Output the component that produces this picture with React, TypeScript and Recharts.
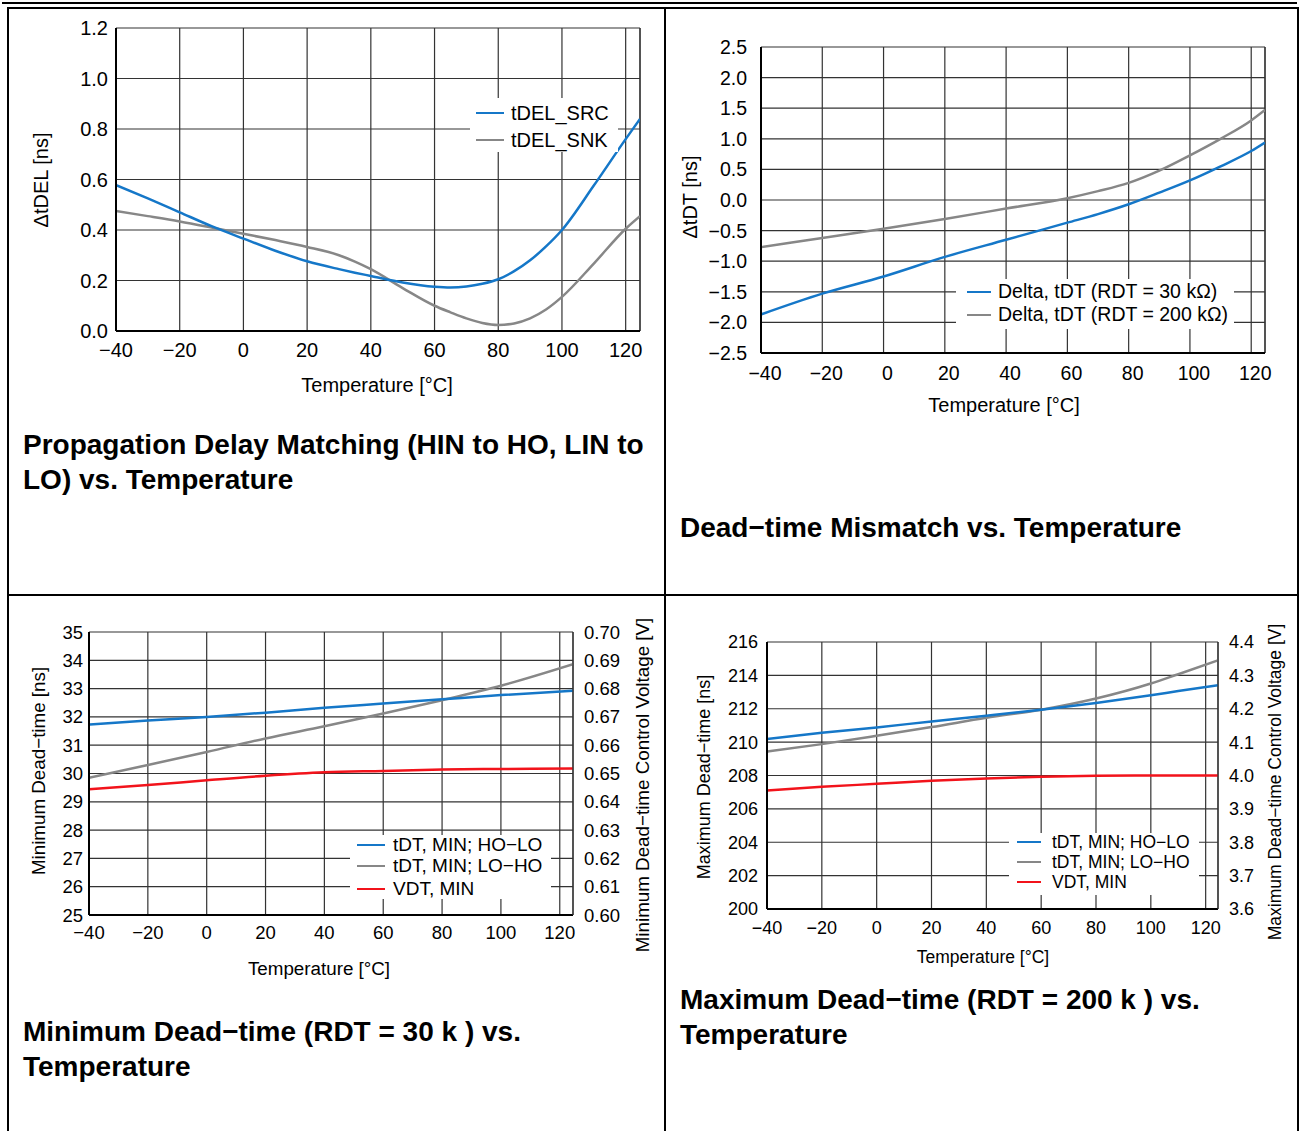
import React from "react";
import { LineChart, Line, XAxis, YAxis, CartesianGrid, ReferenceLine } from "recharts";

// shared temperature axis
const X_TICKS = [-40, -20, 0, 20, 40, 60, 80, 100, 120];
const X_MAX = 124.5;

// chart 1: propagation delay matching
const T1 = [-40, -30, -20, -10, 0, 10, 20, 30, 35, 40, 50, 60, 65, 70, 75, 80, 85, 90, 95, 100, 110, 120, 124.5];
const DEL_SRC = [0.578, 0.525, 0.47, 0.415, 0.366, 0.318, 0.276, 0.245, 0.231, 0.218, 0.192, 0.175, 0.172, 0.176, 0.187, 0.205, 0.237, 0.28, 0.335, 0.4, 0.576, 0.76, 0.84];
const DEL_SNK = [0.475, 0.455, 0.434, 0.41, 0.385, 0.36, 0.333, 0.3, 0.275, 0.245, 0.17, 0.1, 0.074, 0.05, 0.032, 0.024, 0.03, 0.05, 0.085, 0.135, 0.267, 0.405, 0.455];
const Y1_TICKS = [0, 0.2, 0.4, 0.6, 0.8, 1.0, 1.2];

// chart 2: dead-time mismatch
const T2 = [-40, -20, 0, 20, 40, 60, 70, 80, 90, 100, 110, 120, 124.5];
const DT_30K = [-1.87, -1.53, -1.25, -0.93, -0.65, -0.37, -0.23, -0.07, 0.12, 0.32, 0.55, 0.8, 0.94];
const DT_200K = [-0.77, -0.62, -0.47, -0.31, -0.14, 0.03, 0.145, 0.28, 0.48, 0.73, 1.0, 1.3, 1.47];
const Y2_TICKS = [-2.5, -2.0, -1.5, -1.0, -0.5, 0, 0.5, 1.0, 1.5, 2.0, 2.5];

// chart 3: minimum dead-time (RDT = 30k)
const T3 = [-40, -20, 0, 20, 40, 60, 80, 100, 124.5];
const MIN_HOLO = [31.73, 31.87, 32.0, 32.15, 32.32, 32.47, 32.62, 32.77, 32.92];
const MIN_LOHO = [29.85, 30.3, 30.76, 31.24, 31.67, 32.12, 32.59, 33.1, 33.86];
const MIN_VDT = [0.6444, 0.6459, 0.6476, 0.6492, 0.6504, 0.6509, 0.6514, 0.6516, 0.6518];
const Y3_TICKS = [25, 26, 27, 28, 29, 30, 31, 32, 33, 34, 35];
const Y3R_TICKS = [0.6, 0.61, 0.62, 0.63, 0.64, 0.65, 0.66, 0.67, 0.68, 0.69, 0.7];

// chart 4: maximum dead-time (RDT = 200k)
const T4 = [-40, -20, 0, 20, 40, 60, 80, 100, 110, 124.5];
const MAX_HOLO = [210.18, 210.56, 210.88, 211.24, 211.58, 211.94, 212.35, 212.81, 213.06, 213.41];
const MAX_LOHO = [209.43, 209.88, 210.38, 210.9, 211.46, 211.94, 212.61, 213.51, 214.07, 214.9];
const MAX_VDT = [3.955, 3.966, 3.975, 3.984, 3.991, 3.996, 3.999, 4.0, 4.0, 4.0];
const Y4_TICKS = [200, 202, 204, 206, 208, 210, 212, 214, 216];
const Y4R_TICKS = [3.6, 3.7, 3.8, 3.9, 4.0, 4.1, 4.2, 4.3, 4.4];

const BLUE = "#1577c8";
const GRAY = "#878787";
const RED = "#f2131b";
const GRID = "#333";
const FONT = "'Liberation Sans', Arial, Helvetica, sans-serif";

const pts = (ts: number[], vs: number[]) => ts.map((t, i) => ({ t, v: vs[i] }));
const minus = (s: string) => s.replace("-", "\u2212");
const fmt = (d: number) => (v: number) => minus(v.toFixed(d));

type Box = { x: number; y: number; w: number; h: number };
type Plot = { x1: number; y1: number; x2: number; y2: number };

function layout(box: Box, plot: Plot) {
  return {
    left: plot.x1 - box.x,
    right: box.x + box.w - plot.x2,
    top: plot.y1 - box.y,
    bottom: box.y + box.h - plot.y2,
  };
}

type LegendRow = { label: string; color: string; cy: number };

function LegendBox({ x, y, w, h, rows, lineX, lineW, textX, fontSize }: {
  x: number; y: number; w: number; h: number; rows: LegendRow[];
  lineX: number; lineW: number; textX: number; fontSize: number;
}) {
  return (
    <div style={{ position: "absolute", left: x, top: y, width: w, height: h, background: "#fff" }}>
      {rows.map((r) => (
        <React.Fragment key={r.label}>
          <div style={{ position: "absolute", left: lineX, top: r.cy - 1.25, width: lineW, height: 2.5, background: r.color }} />
          <div style={{ position: "absolute", left: textX, top: r.cy - fontSize * 0.6, fontSize, lineHeight: `${fontSize * 1.2}px`, whiteSpace: "nowrap" }}>
            {r.label}
          </div>
        </React.Fragment>
      ))}
    </div>
  );
}

function AxisTitle({ cx, cy, text, size, rotate }: { cx: number; cy: number; text: string; size: number; rotate?: boolean }) {
  return (
    <div
      style={{
        position: "absolute", left: cx, top: cy, fontSize: size, whiteSpace: "nowrap", lineHeight: 1,
        transform: `translate(-50%, -50%)${rotate ? " rotate(-90deg)" : ""}`,
      }}
    >
      {text}
    </div>
  );
}

function Title({ x, y, lines }: { x: number; y: number; lines: string[] }) {
  return (
    <div style={{ position: "absolute", left: x, top: y, fontSize: 28, fontWeight: "bold", lineHeight: "35px", whiteSpace: "nowrap" }}>
      {lines.map((l) => <div key={l}>{l}</div>)}
    </div>
  );
}

const line = (x: number, y: number, w: number, h: number) => (
  <div style={{ position: "absolute", left: x, top: y, width: w, height: h, background: "#000" }} />
);

export default function App() {
  const b1 = { x: 10, y: 10, w: 650, h: 380 };
  const l1 = layout(b1, { x1: 116, y1: 28, x2: 640, y2: 331 });
  const b2 = { x: 670, y: 20, w: 620, h: 385 };
  const l2 = layout(b2, { x1: 761, y1: 47, x2: 1265, y2: 353 });
  const b3 = { x: 10, y: 610, w: 610, h: 350 };
  const l3 = layout(b3, { x1: 89, y1: 632, x2: 573, y2: 915 });
  const b4 = { x: 680, y: 620, w: 590, h: 340 };
  const l4 = layout(b4, { x1: 767, y1: 642, x2: 1218, y2: 909 });

  const tickStyle = (size: number) => ({ fill: "#000", fontSize: size });
  const axisLine = { stroke: "#000", strokeWidth: 2 };
  const thinAxis = { stroke: GRID, strokeWidth: 1.2 };

  return (
    <div style={{ position: "absolute", left: 0, top: 0, width: 1300, height: 1131, background: "#fff", fontFamily: FONT, color: "#000", overflow: "hidden" }}>
      {/* table rules */}
      {line(2, 2, 1295, 2)}
      {line(7, 7, 1292, 1.5)}
      {line(7, 7, 2, 1124)}
      {line(664, 7, 2, 1124)}
      {line(1297, 7, 2, 1124)}
      {line(7, 594, 1292, 2)}

      {/* chart 1 */}
      <div style={{ position: "absolute", left: b1.x, top: b1.y }}>
        <LineChart width={b1.w} height={b1.h} margin={{ top: l1.top, right: l1.right, left: 0, bottom: 0 }}>
          <CartesianGrid stroke={GRID} strokeWidth={1.2} />
          <XAxis dataKey="t" type="number" domain={[-40, X_MAX]} ticks={X_TICKS} allowDataOverflow height={l1.bottom}
            tickLine={false} tickMargin={6} axisLine={axisLine} tick={tickStyle(20)} tickFormatter={fmt(0)} />
          <YAxis type="number" domain={[0, 1.2]} ticks={Y1_TICKS} width={l1.left} tickLine={false} tickMargin={2}
            axisLine={axisLine} tick={tickStyle(20)} tickFormatter={fmt(1)} />
          <ReferenceLine x={X_MAX} stroke={GRID} strokeWidth={1.2} />
          <Line data={pts(T1, DEL_SNK)} dataKey="v" type="monotone" stroke={GRAY} strokeWidth={2.5} dot={false} isAnimationActive={false} />
          <Line data={pts(T1, DEL_SRC)} dataKey="v" type="monotone" stroke={BLUE} strokeWidth={2.5} dot={false} isAnimationActive={false} />
        </LineChart>
      </div>
      <LegendBox x={470} y={98} w={148} h={54} lineX={6} lineW={28} textX={41} fontSize={20}
        rows={[{ label: "tDEL_SRC", color: BLUE, cy: 15 }, { label: "tDEL_SNK", color: GRAY, cy: 42 }]} />
      <AxisTitle cx={41} cy={180} text={"\u0394tDEL [ns]"} size={20} rotate />
      <AxisTitle cx={377} cy={385} text={"Temperature [\u00b0C]"} size={20} />
      <Title x={23} y={427} lines={["Propagation Delay Matching (HIN to HO, LIN to", "LO) vs. Temperature"]} />

      {/* chart 2 */}
      <div style={{ position: "absolute", left: b2.x, top: b2.y }}>
        <LineChart width={b2.w} height={b2.h} margin={{ top: l2.top, right: l2.right, left: 0, bottom: 0 }}>
          <CartesianGrid stroke={GRID} strokeWidth={1.2} />
          <XAxis dataKey="t" type="number" domain={[-40, X_MAX]} ticks={X_TICKS} allowDataOverflow height={l2.bottom}
            tickLine={false} tickMargin={7} axisLine={axisLine} tick={{ ...tickStyle(19.5), dx: 4 }} tickFormatter={fmt(0)} />
          <YAxis type="number" domain={[-2.5, 2.5]} ticks={Y2_TICKS} width={l2.left} tickLine={false} tickMargin={8}
            axisLine={axisLine} tick={tickStyle(19.5)} tickFormatter={fmt(1)} />
          <ReferenceLine x={X_MAX} stroke={GRID} strokeWidth={1.2} />
          <Line data={pts(T2, DT_200K)} dataKey="v" type="monotone" stroke={GRAY} strokeWidth={2.5} dot={false} isAnimationActive={false} />
          <Line data={pts(T2, DT_30K)} dataKey="v" type="monotone" stroke={BLUE} strokeWidth={2.5} dot={false} isAnimationActive={false} />
        </LineChart>
      </div>
      <LegendBox x={956} y={279} w={278} h={50} lineX={11} lineW={24} textX={42} fontSize={19.5}
        rows={[
          { label: "Delta, tDT (RDT = 30 k\u03a9)", color: BLUE, cy: 13 },
          { label: "Delta, tDT (RDT = 200 k\u03a9)", color: GRAY, cy: 36 },
        ]} />
      <AxisTitle cx={690} cy={197} text={"\u0394tDT [ns]"} size={20} rotate />
      <AxisTitle cx={1004} cy={405} text={"Temperature [\u00b0C]"} size={20} />
      <Title x={680} y={510} lines={["Dead\u2212time Mismatch vs. Temperature"]} />

      {/* chart 3 */}
      <div style={{ position: "absolute", left: b3.x, top: b3.y }}>
        <LineChart width={b3.w} height={b3.h} margin={{ top: l3.top, right: 0, left: 0, bottom: 0 }}>
          <CartesianGrid stroke={GRID} strokeWidth={1.2} yAxisId="left" />
          <XAxis dataKey="t" type="number" domain={[-40, X_MAX]} ticks={X_TICKS} allowDataOverflow height={l3.bottom}
            tickLine={false} tickMargin={4.5} axisLine={axisLine} tick={tickStyle(18.5)} tickFormatter={fmt(0)} />
          <YAxis yAxisId="left" type="number" domain={[25, 35]} ticks={Y3_TICKS} width={l3.left} tickLine={false} tickMargin={0}
            axisLine={axisLine} tick={tickStyle(18.5)} tickFormatter={fmt(0)} />
          <YAxis yAxisId="right" orientation="right" type="number" domain={[0.6, 0.7]} ticks={Y3R_TICKS} width={l3.right}
            tickLine={false} tickMargin={5} axisLine={thinAxis} tick={{ ...tickStyle(18.5), textAnchor: "start" }} tickFormatter={fmt(2)} />
          <Line yAxisId="right" data={pts(T3, MIN_VDT)} dataKey="v" type="monotone" stroke={RED} strokeWidth={2.5} dot={false} isAnimationActive={false} />
          <Line yAxisId="left" data={pts(T3, MIN_LOHO)} dataKey="v" type="monotone" stroke={GRAY} strokeWidth={2.5} dot={false} isAnimationActive={false} />
          <Line yAxisId="left" data={pts(T3, MIN_HOLO)} dataKey="v" type="monotone" stroke={BLUE} strokeWidth={2.5} dot={false} isAnimationActive={false} />
        </LineChart>
      </div>
      <LegendBox x={350} y={835} w={201} h={64} lineX={7} lineW={28} textX={43} fontSize={19}
        rows={[
          { label: "tDT, MIN; HO\u2212LO", color: BLUE, cy: 10 },
          { label: "tDT, MIN; LO\u2212HO", color: GRAY, cy: 31 },
          { label: "VDT, MIN", color: RED, cy: 54 },
        ]} />
      <AxisTitle cx={39} cy={771} text={"Minimum Dead\u2212time [ns]"} size={18.8} rotate />
      <AxisTitle cx={643} cy={785} text={"Minimum Dead\u2212time Control Voltage [V]"} size={18.8} rotate />
      <AxisTitle cx={319} cy={969} text={"Temperature [\u00b0C]"} size={18.8} />
      <Title x={23} y={1014} lines={["Minimum Dead\u2212time (RDT = 30 k ) vs.", "Temperature"]} />

      {/* chart 4 */}
      <div style={{ position: "absolute", left: b4.x, top: b4.y }}>
        <LineChart width={b4.w} height={b4.h} margin={{ top: l4.top, right: 0, left: 0, bottom: 0 }}>
          <CartesianGrid stroke={GRID} strokeWidth={1.2} yAxisId="left" />
          <XAxis dataKey="t" type="number" domain={[-40, X_MAX]} ticks={X_TICKS} allowDataOverflow height={l4.bottom}
            tickLine={false} tickMargin={6.7} axisLine={axisLine} tick={tickStyle(18)} tickFormatter={fmt(0)} />
          <YAxis yAxisId="left" type="number" domain={[200, 216]} ticks={Y4_TICKS} width={l4.left} tickLine={false} tickMargin={3}
            axisLine={axisLine} tick={tickStyle(18)} tickFormatter={fmt(0)} />
          <YAxis yAxisId="right" orientation="right" type="number" domain={[3.6, 4.4]} ticks={Y4R_TICKS} width={l4.right}
            tickLine={false} tickMargin={5} axisLine={thinAxis} tick={{ ...tickStyle(18), textAnchor: "start" }} tickFormatter={fmt(1)} />
          <Line yAxisId="right" data={pts(T4, MAX_VDT)} dataKey="v" type="monotone" stroke={RED} strokeWidth={2.5} dot={false} isAnimationActive={false} />
          <Line yAxisId="left" data={pts(T4, MAX_LOHO)} dataKey="v" type="monotone" stroke={GRAY} strokeWidth={2.5} dot={false} isAnimationActive={false} />
          <Line yAxisId="left" data={pts(T4, MAX_HOLO)} dataKey="v" type="monotone" stroke={BLUE} strokeWidth={2.5} dot={false} isAnimationActive={false} />
        </LineChart>
      </div>
      <LegendBox x={1009} y={833} w={190} h={62} lineX={8} lineW={24} textX={43} fontSize={17.5}
        rows={[
          { label: "tDT, MIN; HO\u2212LO", color: BLUE, cy: 9 },
          { label: "tDT, MIN; LO\u2212HO", color: GRAY, cy: 29 },
          { label: "VDT, MIN", color: RED, cy: 49 },
        ]} />
      <AxisTitle cx={704} cy={777} text={"Maximum Dead\u2212time [ns]"} size={18} rotate />
      <AxisTitle cx={1276} cy={782} text={"Maximum Dead\u2212time Control Voltage [V]"} size={17.5} rotate />
      <AxisTitle cx={983} cy={958} text={"Temperature [\u00b0C]"} size={17.5} />
      <Title x={680} y={982} lines={["Maximum Dead\u2212time (RDT = 200 k ) vs.", "Temperature"]} />
    </div>
  );
}
